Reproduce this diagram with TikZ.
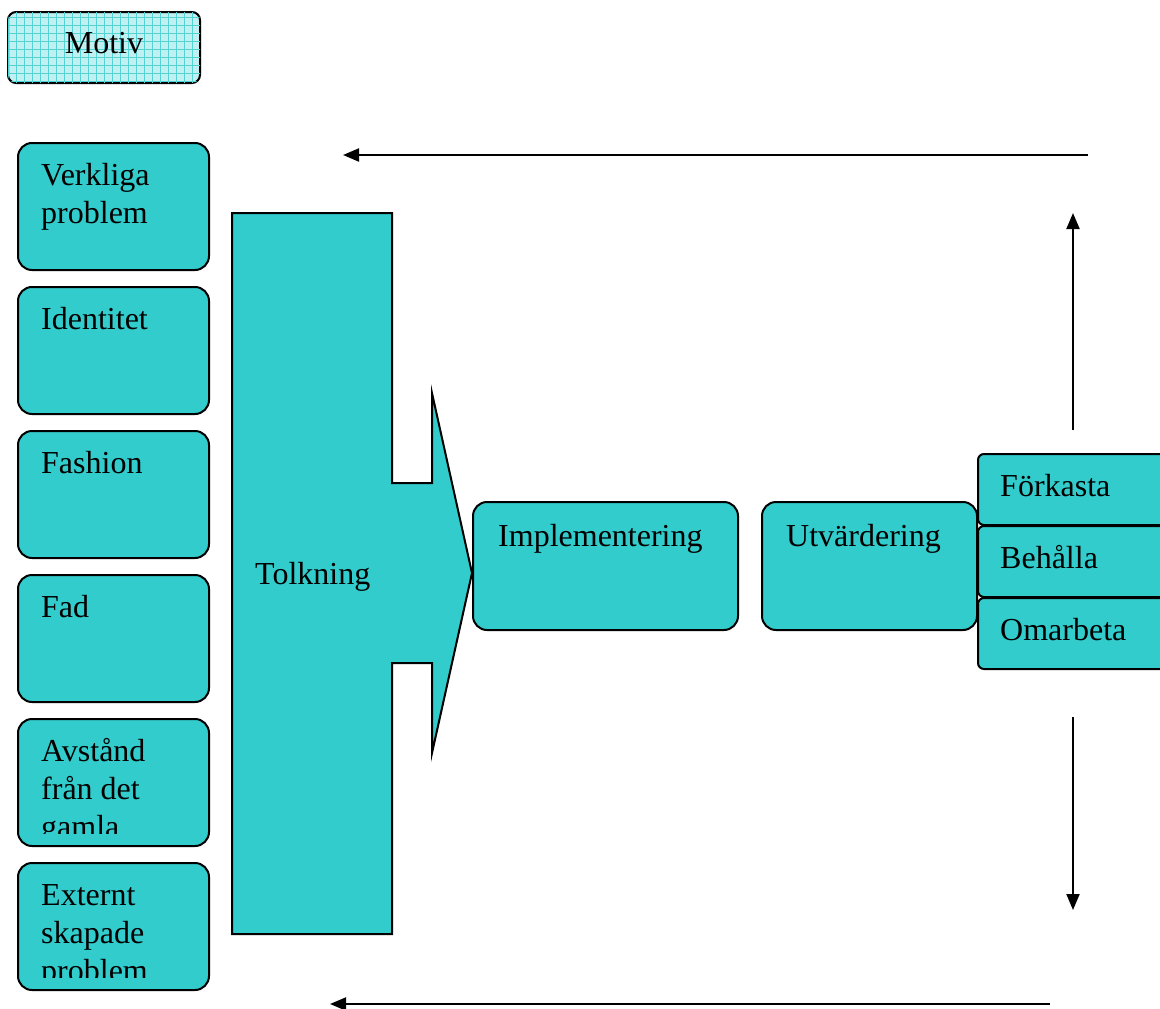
\documentclass[tikz,border=0pt]{standalone}
\usepackage{fontspec}
\setmainfont{Liberation Serif}
\usetikzlibrary{arrows.meta,patterns.meta}
\definecolor{aqua}{HTML}{33CCCC}
\definecolor{ink}{HTML}{000000}

\begin{document}
\begin{tikzpicture}[x=1pt,y=-1pt,>={Triangle[length=16pt,width=13pt]},
  font=\fontsize{32}{38}\selectfont,text=ink,
  box/.style={draw=ink,line width=2pt,fill=aqua,rounded corners=14pt,
    anchor=north west,inner sep=0pt},
  lbl/.style={anchor=base west,inner sep=0pt},
  flow/.style={->,draw=ink,line width=2pt}]
  \useasboundingbox (0,0) rectangle (1160,1009);

  \node[box,rounded corners=8pt,fill=aqua!30,
    postaction={pattern={Hatch[angle=0,distance=8pt,line width=.7pt]},pattern color=aqua!85},
    minimum width=192pt,minimum height=71pt] (motiv) at (7,11) {};
  \node[anchor=base,inner sep=0pt] (motivtxt) at ([shift={(0,42)}]motiv.north) {Motiv};

  \foreach \nm/\yy/\txt in {
    verk/142/{Verkliga\\problem},
    iden/286/{Identitet},
    fash/430/{Fashion},
    fad/574/{Fad},
    avst/718/{Avstånd\\från det\\gamla},
    ext/862/{Externt\\skapade\\problem}}
  {
    \node[box,minimum width=191pt,minimum height=127pt] (\nm) at (17,\yy) {};
    \begin{scope}
      \clip (\nm.north west) rectangle ([yshift=14pt]\nm.south east);
      \node[lbl] (\nm txt) at ([shift={(24,43)}]\nm.north west)
        {\begin{tabular}[t]{@{}l@{}}\txt\end{tabular}};
    \end{scope}
  }

  \draw[draw=ink,line width=2pt,fill=aqua]
    (232,213) -- (392,213) -- (392,483) -- (432,483) -- (432,393) -- (472,573)
    -- (432,753) -- (432,663) -- (392,663) -- (392,934) -- (232,934) -- cycle;
  \node[lbl] (tolk) at (255,584) {Tolkning};

  \node[box,minimum width=265pt,minimum height=128pt] (impl) at (472,501) {};
  \node[lbl] (impltxt) at ([shift={(26,45)}]impl.north west) {Implementering};

  \node[box,minimum width=215pt,minimum height=128pt] (utv) at (761,501) {};
  \node[lbl] (utvtxt) at ([shift={(25,45)}]utv.north west) {Utvärdering};

  \foreach \nm/\yy/\txt in {fork/453/Förkasta, beh/525/Behålla, omarb/597/Omarbeta}
  {
    \node[box,rounded corners=6pt,minimum width=200pt,minimum height=71pt] (\nm) at (977,\yy) {};
    \node[lbl] (\nm txt) at ([shift={(23,43)}]\nm.north west) {\txt};
  }

  \coordinate (topR) at (1088,155);
  \coordinate (topL) at (343,155);
  \coordinate (upS) at (1073,430);
  \coordinate (upE) at (1073,213);
  \coordinate (dnS) at (1073,717);
  \coordinate (dnE) at (1073,910);
  \coordinate (botR) at (1050,1004);
  \coordinate (botL) at (330,1004);
  \draw[flow] (topR) -- (topL);
  \draw[flow] (upS) -- (upE);
  \draw[flow] (dnS) -- (dnE);
  \draw[flow] (botR) -- (botL);
\end{tikzpicture}
\end{document}
